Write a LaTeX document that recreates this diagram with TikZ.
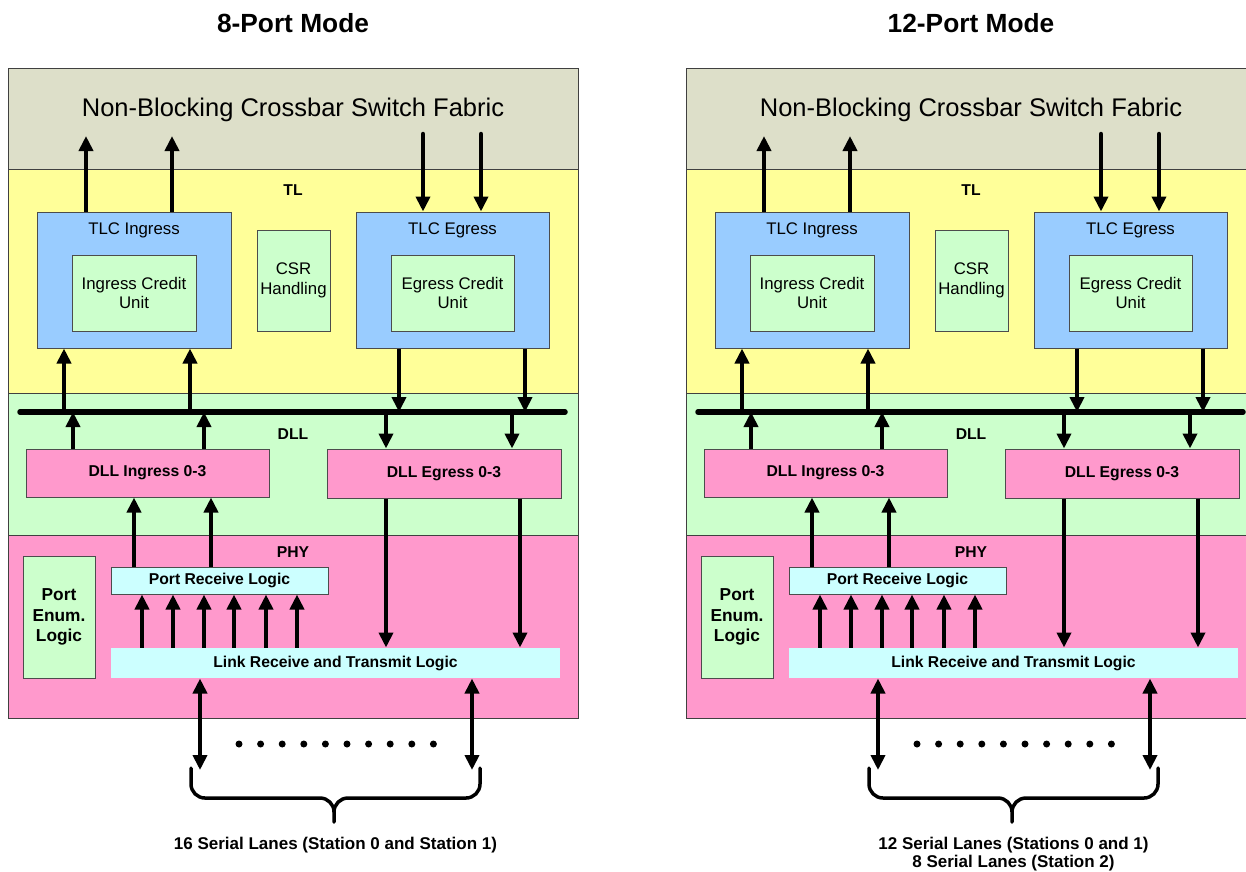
\documentclass[tikz,border=0pt]{standalone}
\usepackage{fontspec}
\setmainfont{Liberation Sans}
\usetikzlibrary{arrows.meta}
\definecolor{fabricgray}{HTML}{DDDFC9}
\definecolor{tlyellow}{HTML}{FFFF99}
\definecolor{dllgreen}{HTML}{CCFFCC}
\definecolor{phypink}{HTML}{FF99CC}
\definecolor{tlcblue}{HTML}{99CCFF}
\definecolor{logiccyan}{HTML}{CCFFFF}
\tikzset{
  band/.style={draw=black!75, line width=1pt, minimum width=570pt, inner sep=0pt},
  blk/.style={draw=black!70, line width=1pt, inner sep=0pt, align=center, font=\fontsize{16.8}{19.5}\selectfont},
  bblk/.style={blk, font=\fontsize{15.7}{18}\selectfont\bfseries},
  txt/.style={inner sep=0pt, font=\fontsize{16.8}{19.5}\selectfont},
  lbl/.style={inner sep=0pt, font=\fontsize{15.7}{18}\selectfont\bfseries},
  arr/.style={line width=4.5pt, -{Triangle[length=15pt,width=14pt]}},
  darr/.style={line width=4.5pt, {Triangle[length=15pt,width=14pt]}-{Triangle[length=15pt,width=14pt]}},
  bus/.style={line width=5.5pt, line cap=round}
}
\begin{document}
\begin{tikzpicture}[x=1pt,y=-1pt]
\useasboundingbox (0,0) rectangle (1246,871);
\foreach \dx/\pmode/\plabel in {0/8-Port Mode/16 Serial Lanes (Station 0 and Station 1),
    678/12-Port Mode/{12 Serial Lanes (Stations 0 and 1)\\8 Serial Lanes (Station 2)}}{
\begin{scope}[shift={(\dx,0)}]
  % layers
  \node[band, fill=fabricgray, minimum height=101pt] (fab) at (293,118.5) {};
  \node[band, fill=tlyellow, minimum height=224pt] (tl) at (293,281) {};
  \node[band, fill=dllgreen, minimum height=142pt] (dll) at (293,464) {};
  \node[band, fill=phypink, minimum height=183pt] (phy) at (293,626.5) {};
  \node[inner sep=0pt, font=\fontsize{26.3}{30}\selectfont\bfseries] (title) at (293,23) {\pmode};
  \node[inner sep=0pt, font=\fontsize{25.5}{30}\selectfont] (fabtxt) at (293,110) {Non-Blocking Crossbar Switch Fabric};
  \node[lbl] (tltxt) at (293,190) {TL};
  \node[lbl] (dlltxt) at (293,434) {DLL};
  \node[lbl] (phytxt) at (293,552) {PHY};
  % blocks
  \node[blk, fill=tlcblue, minimum width=194pt, minimum height=136pt] (tlcin) at (134,280) {};
  \node[txt] (tlcintxt) at ([yshift=-19pt]tlcin.north) {TLC Ingress};
  \node[blk, fill=dllgreen, minimum width=124pt, minimum height=76pt] (icu) at (134,293) {Ingress Credit\\Unit};
  \node[blk, fill=dllgreen, minimum width=73pt, minimum height=101pt] (csr) at (293.5,280.5) {CSR\\Handling};
  \node[blk, fill=tlcblue, minimum width=193pt, minimum height=136pt] (tlceg) at (452.5,280) {};
  \node[txt] (tlcegtxt) at ([yshift=-19pt]tlceg.north) {TLC Egress};
  \node[blk, fill=dllgreen, minimum width=123pt, minimum height=76pt] (ecu) at (452.5,293) {Egress Credit\\Unit};
  \node[bblk, fill=phypink, minimum width=243pt, minimum height=48pt] (dllin) at (147.5,473) {DLL Ingress 0-3};
  \node[bblk, fill=phypink, minimum width=234pt, minimum height=49pt] (dlleg) at (444,473.5) {DLL Egress 0-3};
  \node[bblk, fill=dllgreen, minimum width=72pt, minimum height=122pt, font=\fontsize{17.3}{20.5}\selectfont\bfseries] (penum) at (59,617) {Port\\Enum.\\Logic};
  \node[bblk, fill=logiccyan, minimum width=217pt, minimum height=27pt] (prl) at (219.5,580.5) {Port Receive Logic};
  \node[bblk, fill=logiccyan, draw=none, minimum width=449pt, minimum height=30pt] (link) at (335.5,663) {Link Receive and Transmit Logic};
  % bus and arrows
  \coordinate (busw) at (20,412);
  \coordinate (buse) at (565,412);
  \coordinate (fabin) at (0,136);
  \coordinate (fabout) at (0,134);
  \coordinate (lanes) at (0,770);
  \draw[bus] (busw) -- (buse);
  \foreach \x in {86,172} \draw[arr] (tlcin.north -| \x,0) -- (fabin -| \x,0);
  \foreach \x in {423,481} \draw[arr, line cap=round] (fabout -| \x,0) -- (tlceg.north -| \x,0);
  \foreach \x in {64,190} \draw[arr] (busw -| \x,0) -- (tlcin.south -| \x,0);
  \foreach \x in {399,525} \draw[arr] (tlceg.south -| \x,0) -- (busw -| \x,0);
  \foreach \x in {73,204} \draw[arr] (dllin.north -| \x,0) -- (busw -| \x,0);
  \foreach \x in {386,512} \draw[arr] (busw -| \x,0) -- (dlleg.north -| \x,0);
  \foreach \x in {134,211} \draw[arr] (prl.north -| \x,0) -- (dllin.south -| \x,0);
  \foreach \x in {386,520} \draw[arr] (dlleg.south -| \x,0) -- (link.north -| \x,0);
  \foreach \x in {142,173,204,234,266,297} \draw[arr] (link.north -| \x,0) -- (prl.south -| \x,0);
  \foreach \x in {200,472} \draw[darr] (link.south -| \x,0) -- (lanes -| \x,0);
  % serial lanes
  \foreach \i in {0,...,9} \fill (239+\i*21.6,744) circle (3.5pt);
  \draw[line width=3.5pt, line cap=round, line join=round]
    (191,768) -- (191,784) to[out=-90,in=180] (205,798) -- (320,798) to[out=0,in=90] (334,812) -- (334,822)
    (334,812) to[out=90,in=180] (348,798) -- (466,798) to[out=0,in=-90] (480,784) -- (480,768);
  \node[inner sep=0pt, anchor=north, align=center, font=\fontsize{17}{18}\selectfont\bfseries] (cap) at (335.5,837) {\plabel};
\end{scope}
}
\end{tikzpicture}
\end{document}
